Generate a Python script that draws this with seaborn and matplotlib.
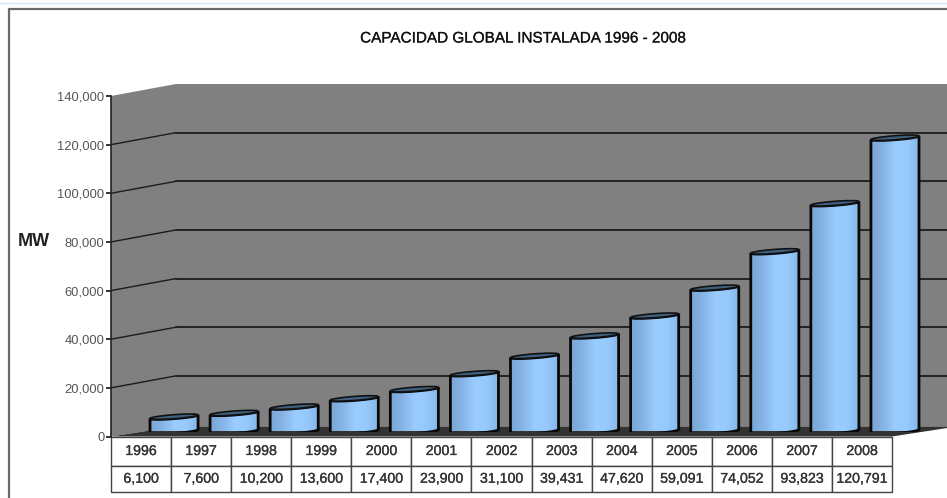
'''Capacidad global instalada 1996 - 2008'''
import numpy as np
import pandas as pd
import seaborn as sns
import matplotlib
matplotlib.use('Agg')
import matplotlib.pyplot as plt
import matplotlib.patheffects as pe
from matplotlib.colors import LinearSegmentedColormap
from matplotlib.lines import Line2D
from matplotlib.patches import PathPatch, Polygon
from matplotlib.path import Path
from matplotlib.transforms import IdentityTransform

years = ['1996', '1997', '1998', '1999', '2000', '2001', '2002',
         '2003', '2004', '2005', '2006', '2007', '2008']
capacity = [6100, 7600, 10200, 13600, 17400, 23900, 31100,
            39431, 47620, 59091, 74052, 93823, 120791]
y_ticks = [0, 20000, 40000, 60000, 80000, 100000, 120000, 140000]
title = 'CAPACIDAD GLOBAL INSTALADA 1996 - 2008'

W, H = 947, 498
# profundidad de la caja 3D
DEPTH_X = 65 / 60.08
DEPTH_Y = 12 / (340.5 / 140000)
FLOOR_Y = 10 / (340.5 / 140000)

BODY = LinearSegmentedColormap.from_list(
    'body', ['#7aa6d4', '#86b4e4', '#99ccff', '#97c9fc', '#84b6ea'])


def ax_rect(left, top, right, bottom):
    return [left / W, (H - bottom) / H, (right - left) / W, (bottom - top) / H]


def ellipse(cx, cy, a, rise, ry, theta):
    x = cx + a * np.cos(theta)
    y = cy + rise * np.cos(theta) + ry * np.sin(theta)
    return np.column_stack([x, y])


def draw_cylinder(ax, bar):
    '''turn one seaborn bar into a tilted cylinder'''
    box = bar.get_window_extent()
    cx = (box.x0 + box.x1) / 2
    a = (box.x1 - box.x0) / 2
    rise, ry = 1.8, 2.0
    front = np.linspace(np.pi, 2 * np.pi, 30)
    body = np.vstack([
        ellipse(cx, box.y0, a, rise, ry, front),
        ellipse(cx, box.y1, a, rise, ry, front[::-1]),
    ])
    body_path = Path(np.vstack([body, body[:1]]), closed=True)
    clip = PathPatch(body_path, transform=IdentityTransform(),
                     fc='none', ec='#080808', lw=2.0, zorder=4)
    ax.add_patch(clip)

    x0, h = bar.get_x(), bar.get_height()
    img = ax.imshow(np.linspace(0, 1, 64).reshape(1, -1), cmap=BODY,
                    extent=(x0, x0 + bar.get_width(), -4000, h + 4000),
                    aspect='auto', zorder=3, interpolation='bilinear')
    img.set_clip_path(clip)

    ring = ellipse(cx, box.y1, a, rise, ry, np.linspace(0, 2 * np.pi, 60))
    cap = Polygon(ring, closed=True, transform=IdentityTransform(),
                  fc='#3f607f', ec='#111111', lw=1.2, zorder=5)
    ax.add_patch(cap)
    bar.set_visible(False)


def main():
    '''main function'''
    sns.set_style('white')
    plt.rcParams['font.family'] = ['Liberation Sans', 'DejaVu Sans']
    heavy = [pe.withStroke(linewidth=0.2, foreground='#333333')]

    df = pd.DataFrame({'year': years, 'mw': capacity})
    fig = plt.figure(figsize=(W / 100, H / 100), dpi=100, facecolor='white')

    # marco de la imagen
    fig.add_artist(Line2D([0, 1], [1 - 3.5 / H] * 2, color='#dbe6f5', lw=1))
    fig.add_artist(Line2D([9 / W, 9 / W, 1],
                          [0, 1 - 9 / H, 1 - 9 / H],
                          color='#6a6a6a', lw=1.6))

    ax = fig.add_axes(ax_rect(111, 96, 892, 436.5))
    ax.set_facecolor('none')
    ax.set_xlim(-0.5, len(years) - 0.5)
    ax.set_ylim(0, 140000)

    # paredes y piso
    x0, x1 = -0.5, len(years) - 0.5
    top = y_ticks[-1]
    ax.add_patch(Polygon([(x0, 0), (x0, top), (x0 + DEPTH_X, top + DEPTH_Y),
                          (x1 + DEPTH_X, top + DEPTH_Y), (x1 + DEPTH_X, FLOOR_Y),
                          (x0 + DEPTH_X, FLOOR_Y)],
                         fc='#808080', ec='none', clip_on=False, zorder=1))
    ax.add_patch(Polygon([(x0, 0), (x1, 0), (x1 + DEPTH_X, FLOOR_Y),
                          (x0 + DEPTH_X, FLOOR_Y)],
                         fc='#333333', ec='none', clip_on=False, zorder=1))
    for t in y_ticks[1:-1]:
        ax.plot([x0, x0 + DEPTH_X], [t, t + DEPTH_Y],
                color='#1c1c1c', lw=1.0, clip_on=False, zorder=2)
        ax.plot([x0 + DEPTH_X, x1 + DEPTH_X], [t + DEPTH_Y, t + DEPTH_Y],
                color='#1c1c1c', lw=1.3, clip_on=False, zorder=2)

    ax.set_yticks(y_ticks)
    ax.set_yticklabels([f'{t:,}' for t in y_ticks], fontsize=9.3, color='#555555')
    ax.tick_params(axis='y', left=True, length=3.6, width=1.2, color='#111111', pad=1)
    ax.set_xticks([])
    sns.despine(ax=ax, top=True, right=True, bottom=True)
    ax.spines['left'].set_color('#222222')
    ax.spines['left'].set_linewidth(1.2)
    ax.spines['left'].set_zorder(3)

    # tabla de datos
    table = ax.table(cellText=[years, [f'{v:,}' for v in capacity]],
                     cellLoc='center', bbox=[0, -55.5 / 340.5, 1, 55.5 / 340.5])
    table.auto_set_font_size(False)
    table.set_fontsize(10.2)
    for (row, _), cell in table.get_celld().items():
        cell.set_height(29 if row == 0 else 26.5)
        cell.set_edgecolor('#444444')
        cell.set_linewidth(1.0)
        cell.get_text().set_color('#333333')
        cell.get_text().set_path_effects(heavy)

    # barras desplazadas hacia el fondo de la caja
    ax_bar = fig.add_axes(ax_rect(111 + 33, 96 - 5, 892 + 33, 436.5 - 5))
    sns.barplot(data=df, x='year', y='mw', color='#99ccff', width=0.8,
                saturation=1, ax=ax_bar)
    ax_bar.set_xlim(-0.5, len(years) - 0.5)
    ax_bar.set_ylim(0, 140000)
    ax_bar.axis('off')
    ax_bar.patch.set_visible(False)
    for bar in list(ax_bar.patches):
        draw_cylinder(ax_bar, bar)
    ax_bar.set_xlim(-0.5, len(years) - 0.5)
    ax_bar.set_ylim(0, 140000)

    fig.text(522.5 / W, 1 - 38.5 / H, title, ha='center', va='center',
             fontsize=11, color='#111111', path_effects=heavy)
    fig.text(33.5 / W, 1 - 241 / H, 'MW', ha='center', va='center',
             fontsize=13, fontweight='bold', color='#222222')

    fig.savefig('out.png', dpi=100)


if __name__ == '__main__':
    main()
